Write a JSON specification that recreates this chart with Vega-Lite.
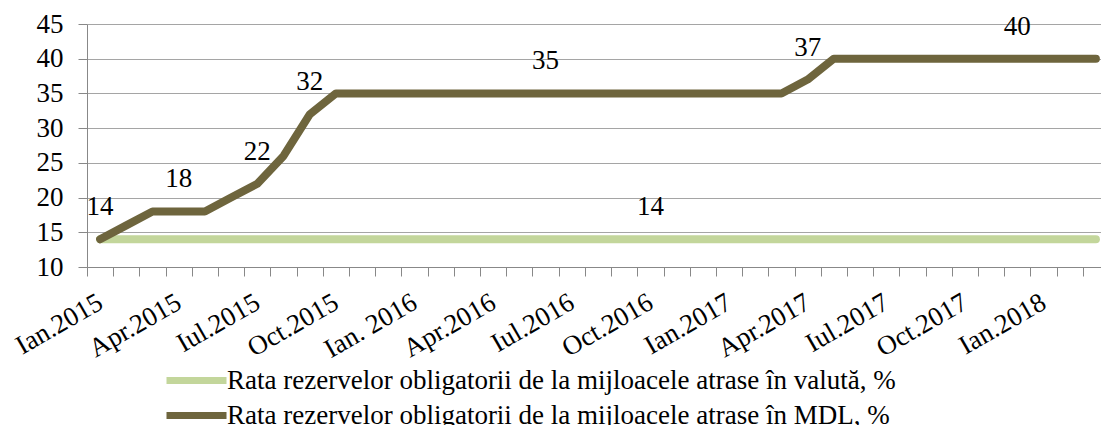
{
  "$schema": "https://vega.github.io/schema/vega-lite/v6.json",
  "width": 1014,
  "height": 243,
  "autosize": {"type": "none"},
  "padding": {"left": 87, "top": 24, "right": 0, "bottom": 158},
  "config": {
    "view": {"stroke": null},
    "font": "Liberation Serif",
    "axis": {
      "labelFont": "Liberation Serif",
      "labelFontSize": 27,
      "labelColor": "#000000",
      "domainColor": "#888888",
      "tickColor": "#888888",
      "gridColor": "#A5A5A5",
      "ticks": true,
      "tickWidth": 1,
      "tickSize": 9,
      "title": null
    },
    "legend": {
      "orient": "none",
      "legendX": 96,
      "legendY": 343,
      "direction": "vertical",
      "symbolType": "M-4,0H4",
      "symbolSize": 225,
      "symbolStrokeWidth": 7,
      "labelFont": "Liberation Serif",
      "labelFontSize": 27,
      "labelColor": "#000000",
      "labelLimit": 1000,
      "labelOffset": 17,
      "rowPadding": 6,
      "padding": 0
    }
  },
  "data": {
    "values": [
      {"m": "Ian.2015", "s": "Rata rezervelor obligatorii de la mijloacele atrase în valută, %", "v": 14, "lab": 0},
      {"m": "Feb.2015", "s": "Rata rezervelor obligatorii de la mijloacele atrase în valută, %", "v": 14, "lab": 0},
      {"m": "Mar.2015", "s": "Rata rezervelor obligatorii de la mijloacele atrase în valută, %", "v": 14, "lab": 0},
      {"m": "Apr.2015", "s": "Rata rezervelor obligatorii de la mijloacele atrase în valută, %", "v": 14, "lab": 0},
      {"m": "Mai.2015", "s": "Rata rezervelor obligatorii de la mijloacele atrase în valută, %", "v": 14, "lab": 0},
      {"m": "Iun.2015", "s": "Rata rezervelor obligatorii de la mijloacele atrase în valută, %", "v": 14, "lab": 0},
      {"m": "Iul.2015", "s": "Rata rezervelor obligatorii de la mijloacele atrase în valută, %", "v": 14, "lab": 0},
      {"m": "Aug.2015", "s": "Rata rezervelor obligatorii de la mijloacele atrase în valută, %", "v": 14, "lab": 0},
      {"m": "Sep.2015", "s": "Rata rezervelor obligatorii de la mijloacele atrase în valută, %", "v": 14, "lab": 0},
      {"m": "Oct.2015", "s": "Rata rezervelor obligatorii de la mijloacele atrase în valută, %", "v": 14, "lab": 0},
      {"m": "Noi.2015", "s": "Rata rezervelor obligatorii de la mijloacele atrase în valută, %", "v": 14, "lab": 0},
      {"m": "Dec.2015", "s": "Rata rezervelor obligatorii de la mijloacele atrase în valută, %", "v": 14, "lab": 0},
      {"m": "Ian. 2016", "s": "Rata rezervelor obligatorii de la mijloacele atrase în valută, %", "v": 14, "lab": 0},
      {"m": "Feb.2016", "s": "Rata rezervelor obligatorii de la mijloacele atrase în valută, %", "v": 14, "lab": 0},
      {"m": "Mar.2016", "s": "Rata rezervelor obligatorii de la mijloacele atrase în valută, %", "v": 14, "lab": 0},
      {"m": "Apr.2016", "s": "Rata rezervelor obligatorii de la mijloacele atrase în valută, %", "v": 14, "lab": 0},
      {"m": "Mai.2016", "s": "Rata rezervelor obligatorii de la mijloacele atrase în valută, %", "v": 14, "lab": 0},
      {"m": "Iun.2016", "s": "Rata rezervelor obligatorii de la mijloacele atrase în valută, %", "v": 14, "lab": 0},
      {"m": "Iul.2016", "s": "Rata rezervelor obligatorii de la mijloacele atrase în valută, %", "v": 14, "lab": 0},
      {"m": "Aug.2016", "s": "Rata rezervelor obligatorii de la mijloacele atrase în valută, %", "v": 14, "lab": 0},
      {"m": "Sep.2016", "s": "Rata rezervelor obligatorii de la mijloacele atrase în valută, %", "v": 14, "lab": 0},
      {"m": "Oct.2016", "s": "Rata rezervelor obligatorii de la mijloacele atrase în valută, %", "v": 14, "lab": 1},
      {"m": "Noi.2016", "s": "Rata rezervelor obligatorii de la mijloacele atrase în valută, %", "v": 14, "lab": 0},
      {"m": "Dec.2016", "s": "Rata rezervelor obligatorii de la mijloacele atrase în valută, %", "v": 14, "lab": 0},
      {"m": "Ian.2017", "s": "Rata rezervelor obligatorii de la mijloacele atrase în valută, %", "v": 14, "lab": 0},
      {"m": "Feb.2017", "s": "Rata rezervelor obligatorii de la mijloacele atrase în valută, %", "v": 14, "lab": 0},
      {"m": "Mar.2017", "s": "Rata rezervelor obligatorii de la mijloacele atrase în valută, %", "v": 14, "lab": 0},
      {"m": "Apr.2017", "s": "Rata rezervelor obligatorii de la mijloacele atrase în valută, %", "v": 14, "lab": 0},
      {"m": "Mai.2017", "s": "Rata rezervelor obligatorii de la mijloacele atrase în valută, %", "v": 14, "lab": 0},
      {"m": "Iun.2017", "s": "Rata rezervelor obligatorii de la mijloacele atrase în valută, %", "v": 14, "lab": 0},
      {"m": "Iul.2017", "s": "Rata rezervelor obligatorii de la mijloacele atrase în valută, %", "v": 14, "lab": 0},
      {"m": "Aug.2017", "s": "Rata rezervelor obligatorii de la mijloacele atrase în valută, %", "v": 14, "lab": 0},
      {"m": "Sep.2017", "s": "Rata rezervelor obligatorii de la mijloacele atrase în valută, %", "v": 14, "lab": 0},
      {"m": "Oct.2017", "s": "Rata rezervelor obligatorii de la mijloacele atrase în valută, %", "v": 14, "lab": 0},
      {"m": "Noi.2017", "s": "Rata rezervelor obligatorii de la mijloacele atrase în valută, %", "v": 14, "lab": 0},
      {"m": "Dec.2017", "s": "Rata rezervelor obligatorii de la mijloacele atrase în valută, %", "v": 14, "lab": 0},
      {"m": "Ian.2018", "s": "Rata rezervelor obligatorii de la mijloacele atrase în valută, %", "v": 14, "lab": 0},
      {"m": "Feb.2018", "s": "Rata rezervelor obligatorii de la mijloacele atrase în valută, %", "v": 14, "lab": 0},
      {"m": "Mar.2018", "s": "Rata rezervelor obligatorii de la mijloacele atrase în valută, %", "v": 14, "lab": 0},
      {"m": "Ian.2015", "s": "Rata rezervelor obligatorii de la mijloacele atrase în MDL, %", "v": 14, "lab": 1},
      {"m": "Feb.2015", "s": "Rata rezervelor obligatorii de la mijloacele atrase în MDL, %", "v": 16, "lab": 0},
      {"m": "Mar.2015", "s": "Rata rezervelor obligatorii de la mijloacele atrase în MDL, %", "v": 18, "lab": 0},
      {"m": "Apr.2015", "s": "Rata rezervelor obligatorii de la mijloacele atrase în MDL, %", "v": 18, "lab": 1},
      {"m": "Mai.2015", "s": "Rata rezervelor obligatorii de la mijloacele atrase în MDL, %", "v": 18, "lab": 0},
      {"m": "Iun.2015", "s": "Rata rezervelor obligatorii de la mijloacele atrase în MDL, %", "v": 20, "lab": 0},
      {"m": "Iul.2015", "s": "Rata rezervelor obligatorii de la mijloacele atrase în MDL, %", "v": 22, "lab": 1},
      {"m": "Aug.2015", "s": "Rata rezervelor obligatorii de la mijloacele atrase în MDL, %", "v": 26, "lab": 0},
      {"m": "Sep.2015", "s": "Rata rezervelor obligatorii de la mijloacele atrase în MDL, %", "v": 32, "lab": 1},
      {"m": "Oct.2015", "s": "Rata rezervelor obligatorii de la mijloacele atrase în MDL, %", "v": 35, "lab": 0},
      {"m": "Noi.2015", "s": "Rata rezervelor obligatorii de la mijloacele atrase în MDL, %", "v": 35, "lab": 0},
      {"m": "Dec.2015", "s": "Rata rezervelor obligatorii de la mijloacele atrase în MDL, %", "v": 35, "lab": 0},
      {"m": "Ian. 2016", "s": "Rata rezervelor obligatorii de la mijloacele atrase în MDL, %", "v": 35, "lab": 0},
      {"m": "Feb.2016", "s": "Rata rezervelor obligatorii de la mijloacele atrase în MDL, %", "v": 35, "lab": 0},
      {"m": "Mar.2016", "s": "Rata rezervelor obligatorii de la mijloacele atrase în MDL, %", "v": 35, "lab": 0},
      {"m": "Apr.2016", "s": "Rata rezervelor obligatorii de la mijloacele atrase în MDL, %", "v": 35, "lab": 0},
      {"m": "Mai.2016", "s": "Rata rezervelor obligatorii de la mijloacele atrase în MDL, %", "v": 35, "lab": 0},
      {"m": "Iun.2016", "s": "Rata rezervelor obligatorii de la mijloacele atrase în MDL, %", "v": 35, "lab": 1},
      {"m": "Iul.2016", "s": "Rata rezervelor obligatorii de la mijloacele atrase în MDL, %", "v": 35, "lab": 0},
      {"m": "Aug.2016", "s": "Rata rezervelor obligatorii de la mijloacele atrase în MDL, %", "v": 35, "lab": 0},
      {"m": "Sep.2016", "s": "Rata rezervelor obligatorii de la mijloacele atrase în MDL, %", "v": 35, "lab": 0},
      {"m": "Oct.2016", "s": "Rata rezervelor obligatorii de la mijloacele atrase în MDL, %", "v": 35, "lab": 0},
      {"m": "Noi.2016", "s": "Rata rezervelor obligatorii de la mijloacele atrase în MDL, %", "v": 35, "lab": 0},
      {"m": "Dec.2016", "s": "Rata rezervelor obligatorii de la mijloacele atrase în MDL, %", "v": 35, "lab": 0},
      {"m": "Ian.2017", "s": "Rata rezervelor obligatorii de la mijloacele atrase în MDL, %", "v": 35, "lab": 0},
      {"m": "Feb.2017", "s": "Rata rezervelor obligatorii de la mijloacele atrase în MDL, %", "v": 35, "lab": 0},
      {"m": "Mar.2017", "s": "Rata rezervelor obligatorii de la mijloacele atrase în MDL, %", "v": 35, "lab": 0},
      {"m": "Apr.2017", "s": "Rata rezervelor obligatorii de la mijloacele atrase în MDL, %", "v": 37, "lab": 1},
      {"m": "Mai.2017", "s": "Rata rezervelor obligatorii de la mijloacele atrase în MDL, %", "v": 40, "lab": 0},
      {"m": "Iun.2017", "s": "Rata rezervelor obligatorii de la mijloacele atrase în MDL, %", "v": 40, "lab": 0},
      {"m": "Iul.2017", "s": "Rata rezervelor obligatorii de la mijloacele atrase în MDL, %", "v": 40, "lab": 0},
      {"m": "Aug.2017", "s": "Rata rezervelor obligatorii de la mijloacele atrase în MDL, %", "v": 40, "lab": 0},
      {"m": "Sep.2017", "s": "Rata rezervelor obligatorii de la mijloacele atrase în MDL, %", "v": 40, "lab": 0},
      {"m": "Oct.2017", "s": "Rata rezervelor obligatorii de la mijloacele atrase în MDL, %", "v": 40, "lab": 0},
      {"m": "Noi.2017", "s": "Rata rezervelor obligatorii de la mijloacele atrase în MDL, %", "v": 40, "lab": 0},
      {"m": "Dec.2017", "s": "Rata rezervelor obligatorii de la mijloacele atrase în MDL, %", "v": 40, "lab": 1},
      {"m": "Ian.2018", "s": "Rata rezervelor obligatorii de la mijloacele atrase în MDL, %", "v": 40, "lab": 0},
      {"m": "Feb.2018", "s": "Rata rezervelor obligatorii de la mijloacele atrase în MDL, %", "v": 40, "lab": 0},
      {"m": "Mar.2018", "s": "Rata rezervelor obligatorii de la mijloacele atrase în MDL, %", "v": 40, "lab": 0}
    ]
  },
  "encoding": {
    "x": {
      "field": "m",
      "type": "ordinal",
      "sort": null,
      "bandPosition": 0.5,
      "scale": {"type": "band", "range": [0, 1022], "paddingInner": 0, "paddingOuter": 0},
      "axis": {
        "tickBand": "extent",
        "ticks": true,
        "labelAngle": -30,
        "labelAlign": "right",
        "labelBaseline": "middle",
        "labelPadding": 24,
        "labelOverlap": false,
        "labelExpr": "(substring(datum.value, 0, 3) == 'Ian' || substring(datum.value, 0, 3) == 'Apr' || substring(datum.value, 0, 3) == 'Iul' || substring(datum.value, 0, 3) == 'Oct') ? datum.value : ''",
        "grid": false
      }
    },
    "y": {
      "field": "v",
      "type": "quantitative",
      "scale": {"domain": [10, 45], "nice": false, "zero": false},
      "axis": {"values": [10, 15, 20, 25, 30, 35, 40, 45], "grid": true, "labelPadding": 15}
    }
  },
  "layer": [
    {
      "mark": {"type": "line", "strokeWidth": 8, "strokeCap": "round", "strokeJoin": "round"},
      "encoding": {
        "color": {
          "field": "s",
          "type": "nominal",
          "scale": {
            "domain": ["Rata rezervelor obligatorii de la mijloacele atrase în valută, %", "Rata rezervelor obligatorii de la mijloacele atrase în MDL, %"],
            "range": ["#C3D69B", "#6E653D"]
          },
          "legend": {"title": null}
        }
      }
    },
    {
      "transform": [{"filter": "datum.lab == 1"}],
      "mark": {"type": "text", "font": "Liberation Serif", "fontSize": 27, "color": "#000000", "dy": -32, "baseline": "middle"},
      "encoding": {"text": {"field": "v", "type": "quantitative"}}
    }
  ]
}
